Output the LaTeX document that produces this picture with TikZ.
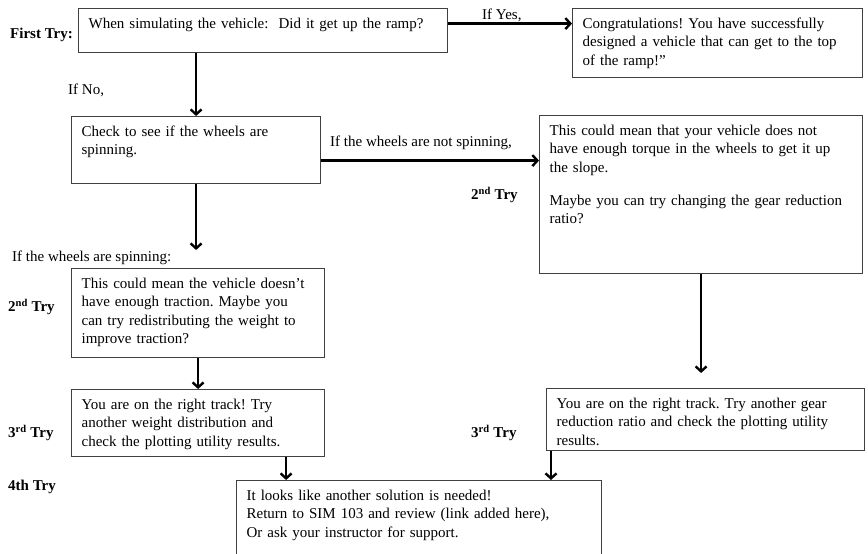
\documentclass[tikz,border=0pt]{standalone}
\usepackage{fontspec}
\setmainfont{Liberation Serif}
\frenchspacing
\usetikzlibrary{arrows.meta}

\begin{document}
\begin{tikzpicture}[x=1pt,y=-1pt]

\tikzset{box/.style = {shape=rectangle,draw=black!75,line width=1.2pt,anchor=north west,align=left,inner xsep=10pt,inner ysep=6pt,text height=14pt,font=\fontsize{15}{18.3}\selectfont}}
\tikzset{tag/.style = {anchor=west,inner sep=0pt,font=\fontsize{15}{18}\selectfont}}
\tikzset{edge/.style = {->,> = {Straight Barb[length=5pt,width=11pt]},line width=2.4pt}}
\useasboundingbox (0,0) rectangle (868,554);
%boxes
\node[box, text width=349pt, text depth=18pt] (ramp) at (78,8) {When simulating the vehicle:\ \ Did it get up the ramp?};
\node[box, text width=270pt, text depth=43pt] (congrats) at (572,8) {Congratulations! You have successfully\\ designed a vehicle that can get to the top\\ of the ramp!”};
\node[box, text width=229pt, text depth=41pt] (check) at (71,116) {Check to see if the wheels are\\ spinning.};
\node[box, text width=303pt, text depth=132pt] (torque) at (539,115) {This could mean that your vehicle does not\\ have enough torque in the wheels to get it up\\ the slope.\\[15pt] Maybe you can try changing the gear reduction\\ ratio?};
\node[box, text width=233pt, text depth=63pt] (traction) at (71,268) {This could mean the vehicle doesn’t\\ have enough traction. Maybe you\\ can try redistributing the weight to\\ improve traction?};
\node[box, text width=233pt, text depth=41pt] (track1) at (71,389) {You are on the right track! Try\\ another weight distribution and\\ check the plotting utility results.};
\node[box, text width=298pt, text depth=36pt] (track2) at (546,388) {You are on the right track. Try another gear\\ reduction ratio and check the plotting utility\\ results.};
\node[box, text width=345pt, text depth=54pt] (solution) at (236,480) {It looks like another solution is needed!\\ Return to SIM 103 and review (link added here),\\ Or ask your instructor for support.};
%labels
\node[tag, font=\fontsize{15}{18}\selectfont\bfseries] (first) at (10,35) {First Try:};
\node[tag] (yes) at (482,15) {If Yes,};
\node[tag] (no) at (68,90) {If No,};
\node[tag] (notspin) at (330,143) {If the wheels are not spinning,};
\node[tag, font=\fontsize{15}{18}\selectfont\bfseries] (try2r) at (471,195) {2\textsuperscript{nd} Try};
\node[tag] (spin) at (12,258) {If the wheels are spinning:};
\node[tag, font=\fontsize{15}{18}\selectfont\bfseries] (try2l) at (8,307) {2\textsuperscript{nd} Try};
\node[tag, font=\fontsize{15}{18}\selectfont\bfseries] (try3l) at (8,433) {3\textsuperscript{rd} Try};
\node[tag, font=\fontsize{15}{18}\selectfont\bfseries] (try4) at (8,487) {4th Try};
\node[tag, font=\fontsize{15}{18}\selectfont\bfseries] (try3r) at (471,433) {3\textsuperscript{rd} Try};
%edges
\draw[edge] ([yshift=7pt]ramp.east) -- ([yshift=7pt]ramp.east -| congrats.west);
\draw[edge] (ramp.south -| check.north) -- (check.north);
\draw[edge] ([yshift=-10.5pt]check.east) -- ([yshift=-10.5pt]check.east -| torque.west);
\draw[edge, shorten >=18pt] (check.south) -- (check.south |- traction.north);
\draw[edge, shorten >=15pt] (torque.south) -- (torque.south |- track2.north);
\draw[edge] (traction.south) -- (track1.north);
\draw[edge] ([xshift=88pt]track1.south) -- ([xshift=88pt]track1.south |- solution.north);
\draw[edge] ([xshift=5pt]track2.south west) -- ([xshift=5pt]track2.south west |- solution.north);

\end{tikzpicture}
\end{document}
